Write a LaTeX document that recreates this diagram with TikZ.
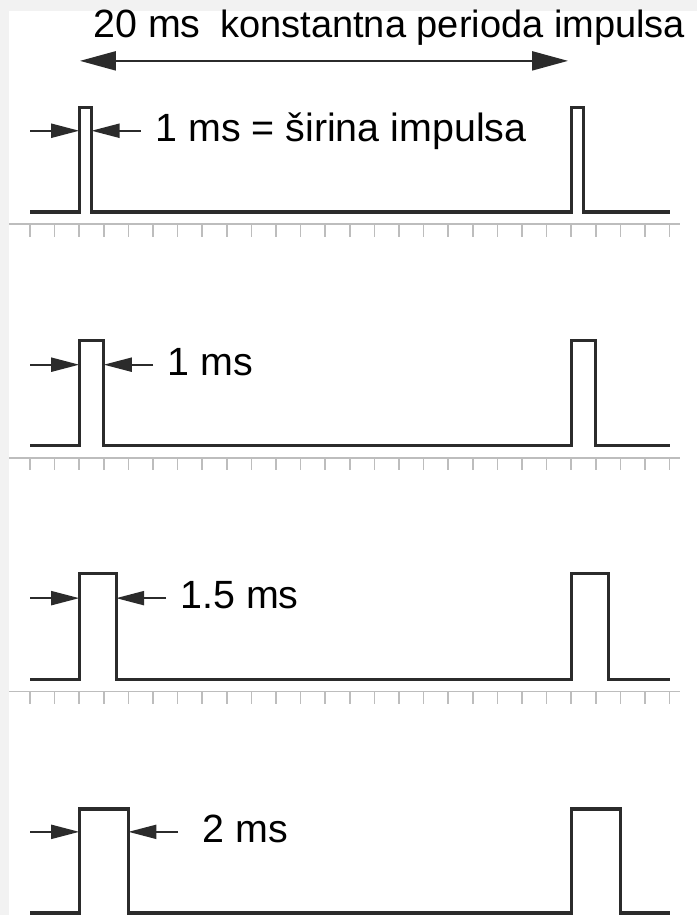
\documentclass[tikz,border=0pt]{standalone}
\usepackage{fontspec}
\setmainfont{Liberation Sans}
\usetikzlibrary{arrows.meta, positioning}

\definecolor{pagegray}{HTML}{F2F2F2}
\definecolor{sigcol}{HTML}{2B2B2B}
\definecolor{axiscol}{HTML}{BDBDBD}

\tikzset{
    signal/.style={line width=1.6pt, draw=sigcol, line join=miter},
    dimarrow/.style={line width=1pt, draw=sigcol, -{Triangle[length=14pt, width=7pt]}},
    periodarrow/.style={line width=1.1pt, draw=sigcol, {Triangle[length=18pt, width=9.5pt]}-{Triangle[length=18pt, width=9.5pt]}},
    timeaxis/.style={line width=0.8pt, draw=axiscol},
    lbl/.style={font=\fontsize{19.7pt}{22pt}\selectfont, inner sep=0pt, text=black, anchor=base west}
}

\begin{document}
\begin{tikzpicture}[x=12.3pt, y=12.3pt]
    % Page and margins
    \useasboundingbox (-1.22,0) rectangle (27.114,37.195);
    \fill[pagegray] (-1.22,0) rectangle (27.114,37.195);
    \fill[white] (-0.854,0) rectangle (27.114,36.748);

    % Period of the pulses
    \coordinate (P1) at (2.03,34.72);
    \coordinate (P2) at (21.87,34.72);
    \draw[periodarrow] (P1) -- (P2);
    \node[lbl] (per) at (2.56,35.65) {20 ms};
    \node[lbl, font=\fontsize{19pt}{22pt}\selectfont] (pertext) at (7.72,35.65) {konstantna perioda impulsa};

    % Time axes with ticks
    \foreach \y in {28.08, 18.58, 9.08} {
        \draw[timeaxis] (-0.854,\y) -- (26.42,\y);
        \foreach \t in {0,...,26}
            \draw[timeaxis] (\t,\y) -- (\t,\y-0.5);
    }

    % Pulse 0.5 ms
    \draw[signal] (0,28.58) -- (2,28.58) -- ++(0,4.25) -- ++(0.5,0) -- ++(0,-4.25)
        -- (22,28.58) -- ++(0,4.25) -- ++(0.5,0) -- ++(0,-4.25) -- (26,28.58);
    \coordinate (A1) at (0,31.88);
    \coordinate (B1) at (2,31.88);
    \coordinate (C1) at (2.5,31.88);
    \coordinate (D1) at (4.5,31.88);
    \draw[dimarrow] (A1) -- (B1);
    \draw[dimarrow] (D1) -- (C1);
    \node[lbl] (w1) at (5.08,31.46) {1 ms = širina impulsa};

    % Pulse 1 ms
    \draw[signal] (0,19.08) -- (2,19.08) -- ++(0,4.27) -- ++(1,0) -- ++(0,-4.27)
        -- (22,19.08) -- ++(0,4.27) -- ++(1,0) -- ++(0,-4.27) -- (26,19.08);
    \coordinate (A2) at (0,22.37);
    \coordinate (B2) at (2,22.37);
    \coordinate (C2) at (3,22.37);
    \coordinate (D2) at (5,22.37);
    \draw[dimarrow] (A2) -- (B2);
    \draw[dimarrow] (D2) -- (C2);
    \node[lbl] (w2) at (5.57,21.95) {1 ms};

    % Pulse 1.5 ms
    \draw[signal] (0,9.58) -- (2,9.58) -- ++(0,4.3) -- ++(1.5,0) -- ++(0,-4.3)
        -- (22,9.58) -- ++(0,4.3) -- ++(1.5,0) -- ++(0,-4.3) -- (26,9.58);
    \coordinate (A3) at (0,12.88);
    \coordinate (B3) at (2,12.88);
    \coordinate (C3) at (3.5,12.88);
    \coordinate (D3) at (5.53,12.88);
    \draw[dimarrow] (A3) -- (B3);
    \draw[dimarrow] (D3) -- (C3);
    \node[lbl] (w3) at (6.1,12.44) {1.5 ms};

    % Pulse 2 ms
    \draw[signal] (0,0.08) -- (2,0.08) -- ++(0,4.23) -- ++(2,0) -- ++(0,-4.23)
        -- (22,0.08) -- ++(0,4.23) -- ++(2,0) -- ++(0,-4.23) -- (26,0.08);
    \coordinate (A4) at (0,3.38);
    \coordinate (B4) at (2,3.38);
    \coordinate (C4) at (4,3.38);
    \coordinate (D4) at (6.02,3.38);
    \draw[dimarrow] (A4) -- (B4);
    \draw[dimarrow] (D4) -- (C4);
    \node[lbl] (w4) at (6.99,2.94) {2 ms};
\end{tikzpicture}
\end{document}
